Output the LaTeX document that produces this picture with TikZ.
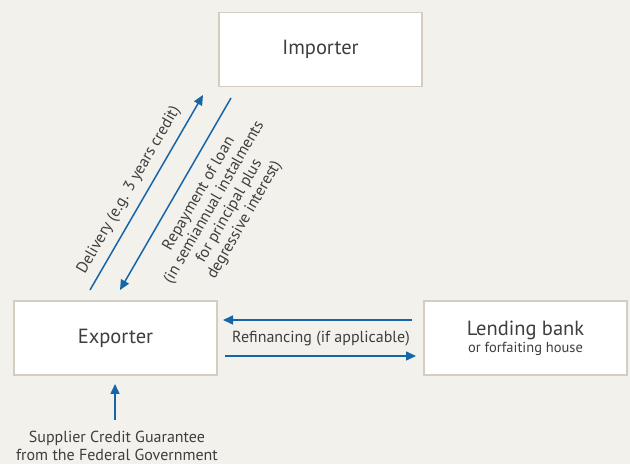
\documentclass[tikz,border=0pt]{standalone}
\usepackage{fontspec}
\setmainfont{PT Sans}
\usetikzlibrary{arrows.meta}
\definecolor{bg}{HTML}{F3F1EC}
\definecolor{boxline}{HTML}{D5CEC0}
\definecolor{arrowblue}{HTML}{1565A8}
\definecolor{txt}{HTML}{3E3E3E}
\tikzset{
  box/.style={draw=boxline, line width=1.5pt, fill=white, minimum width=203pt, minimum height=74pt, inner sep=0pt, text=txt, align=center},
  bigtext/.style={font=\fontsize{20.5}{24}\selectfont},
  lbl/.style={text=txt, font=\fontsize{16}{17.5}\selectfont, align=center, inner sep=0pt},
  flow/.style={draw=arrowblue, line width=1.5pt, -{Triangle[length=10pt,width=9pt]}}
}
\begin{document}
\begin{tikzpicture}[x=1pt,y=1pt]
\fill[bg] (0,0) rectangle (630,464);
\useasboundingbox (0,0) rectangle (630,464);
\node[box,bigtext] (imp) at (320.5,414.5) {Importer};
\node[box,bigtext] (exp) at (115.5,126) {Exporter};
\node[box] (bank) at (525.5,126) {{\fontsize{20.5}{24}\selectfont Lending bank}\\[1pt]{\fontsize{14.5}{17}\selectfont or forfaiting house}};
% arrow end coordinates
\coordinate (d1) at (90,174);
\coordinate (d2) at (203,369);
\coordinate (r1) at (231,366);
\coordinate (r2) at (120,174);
\coordinate (f1) at (412,144);
\coordinate (f2) at (223,144);
\coordinate (g1) at (225,108);
\coordinate (g2) at (416,108);
\coordinate (s1) at (115,44);
\coordinate (s2) at (115,80);
\draw[flow] (d1) -- (d2);
\draw[flow] (r1) -- (r2);
\draw[flow] (f1) -- (f2);
\draw[flow] (g1) -- (g2);
\draw[flow] (s1) -- (s2);
\node[lbl, rotate=60] (dl) at (129,274) {Delivery (e.g. 3 years credit)};
\node[lbl, rotate=60] (rl) at (222,257) {Repayment of loan\\(in semiannual instalments\\for principal plus\\degressive interest)};
\node[lbl] (fl) at (321,125) {Refinancing (if applicable)};
\node[lbl] (sl) at (117,18) {Supplier Credit Guarantee\\from the Federal Government};
\end{tikzpicture}
\end{document}
